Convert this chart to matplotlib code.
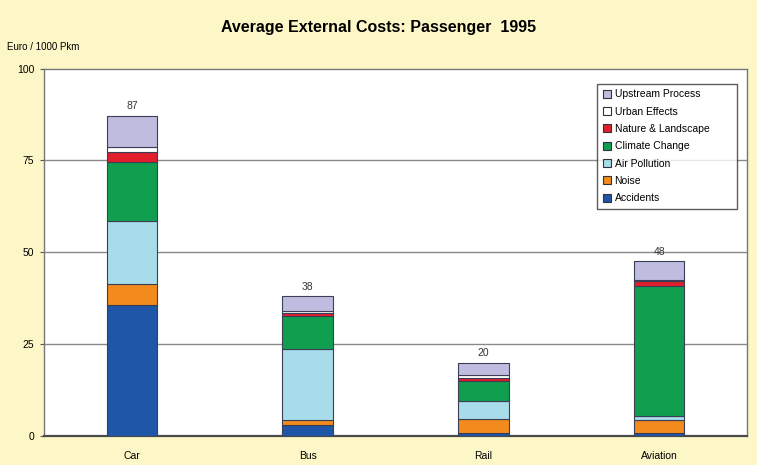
import matplotlib
matplotlib.use("Agg")
import matplotlib.pyplot as plt
import numpy as np
from matplotlib.patches import Patch

plt.rcParams['font.family'] = ['Liberation Sans', 'DejaVu Sans']

# Dane (Euro / 1000 Pkm)
modes = ["Car", "Bus", "Rail", "Aviation"]
accidents = [35.6, 3.0, 0.7, 0.7]
noise = [5.7, 1.3, 3.9, 3.6]
air_pollution = [17.2, 19.3, 4.9, 1.2]
climate_change = [16.2, 9.0, 5.5, 35.3]
nature_landscape = [2.6, 1.0, 0.9, 1.4]
urban_effects = [1.3, 0.4, 0.6, 0.2]
upstream = [8.6, 4.1, 3.4, 5.2]
totals = [87, 38, 20, 48]

series = [
    ("Accidents", accidents, "#1f56a8"),
    ("Noise", noise, "#f28a1e"),
    ("Air Pollution", air_pollution, "#a9dcea"),
    ("Climate Change", climate_change, "#0f9f4f"),
    ("Nature & Landscape", nature_landscape, "#e11f2c"),
    ("Urban Effects", urban_effects, "#ffffff"),
    ("Upstream Process", upstream, "#bfbce0"),
]

bg = "#fdf7c8"
fig = plt.figure(figsize=(7.57, 4.65), dpi=100, facecolor=bg)
ax = fig.add_axes([0.058, 0.0624, 0.929, 0.79])
ax.set_facecolor("white")

x = np.arange(len(modes))
bottom = np.zeros(len(modes))
for name, vals, col in series:
    ax.bar(x, vals, 0.286, bottom=bottom, color=col, edgecolor="#3a3f55",
           linewidth=0.8, zorder=3)
    bottom += np.array(vals)

for xi, tot, top in zip(x, totals, bottom):
    ax.text(xi, top + 1.2, str(tot), ha="center", va="bottom", fontsize=7.5,
            color="#333333")

ax.set_xlim(-0.5, 3.5)
ax.set_ylim(0, 100)
ax.set_yticks([0, 25, 50, 75, 100])
ax.set_xticks(x)
ax.set_xticklabels(modes)
ax.tick_params(axis="y", labelsize=7.5, length=3, color="#555555", pad=4)
ax.tick_params(axis="x", labelsize=7.5, length=0, pad=11)
for yv in [25, 50, 75]:
    ax.axhline(yv, color="#8a8a8a", linewidth=1.0, zorder=1)
for s in ax.spines.values():
    s.set_color("#777777")
    s.set_linewidth(1.0)
ax.spines["bottom"].set_color("#4a4a4a")
ax.spines["bottom"].set_linewidth(1.6)

fig.text(0.5, 0.94, "Average External Costs: Passenger  1995", ha="center",
         va="center", fontsize=11.5, fontweight="bold")
fig.text(0.009, 0.898, "Euro / 1000 Pkm", ha="left", va="center", fontsize=7)

handles = [Patch(facecolor=c, edgecolor="#333333", linewidth=0.8, label=n)
           for n, _, c in reversed(series)]
leg = ax.legend(handles=handles, loc="upper left",
                bbox_to_anchor=(0.787, 0.959, 0.199, 0.0), mode="expand",
                fontsize=7.5, frameon=True, fancybox=False,
                handlelength=0.8, handleheight=0.8, handletextpad=0.3,
                labelspacing=0.7, borderpad=0.55, borderaxespad=0.0)
leg.get_frame().set_edgecolor("#333333")
leg.get_frame().set_linewidth(1.0)
leg.set_zorder(5)

fig.savefig("out.png", dpi=100, facecolor=bg)
